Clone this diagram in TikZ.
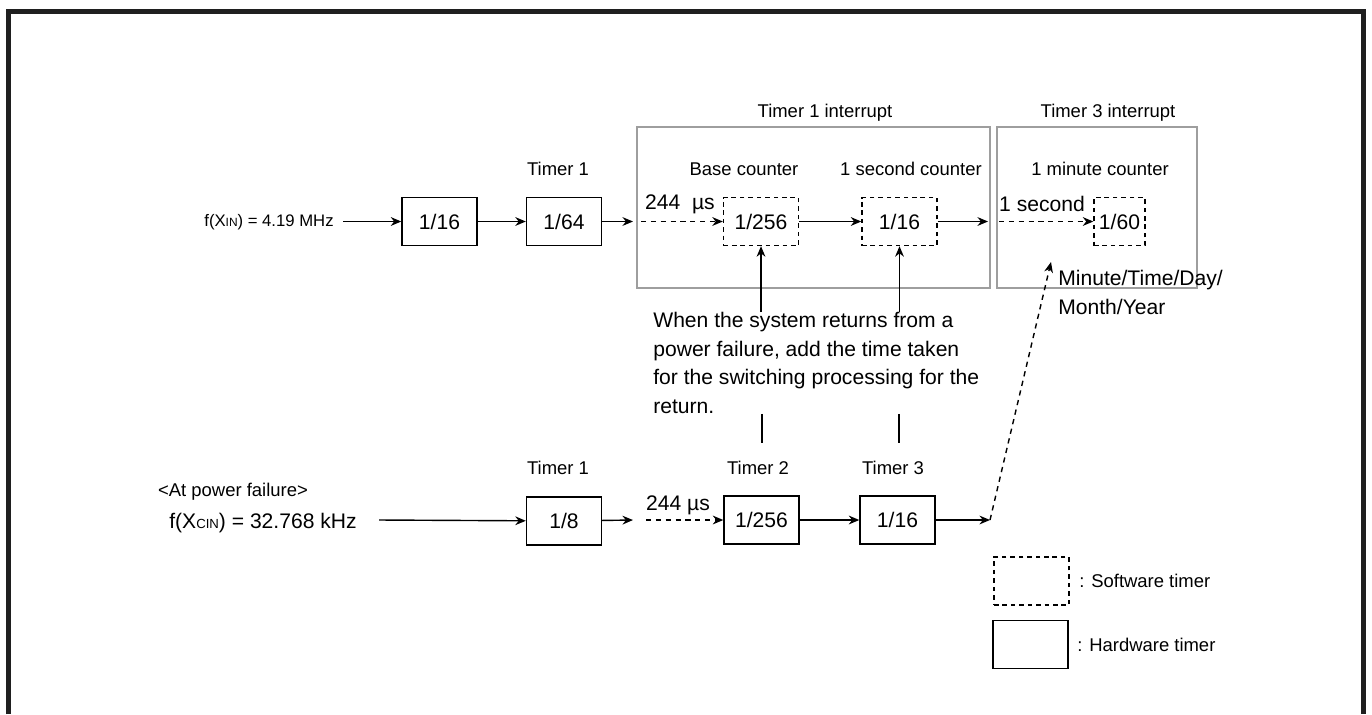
\documentclass[tikz,border=0pt]{standalone}
\usepackage{fontspec}
\setmainfont{Liberation Sans}
\usepackage{tikz}
\usetikzlibrary{arrows.meta,calc}

\newcommand{\subtxt}[2][7.5]{{\fontsize{#1}{9}\selectfont #2}}

\begin{document}
\begin{tikzpicture}[x=0.02cm, y=-0.02cm,
  lbl/.style={font=\fontsize{10.5}{12.6}\selectfont, inner sep=0pt},
  big/.style={font=\fontsize{12}{16.2}\selectfont, inner sep=0pt},
  hwbox/.style={draw, line width=0.8pt, minimum width=1.5cm, minimum height=0.96cm, inner sep=1pt, font=\fontsize{12}{14}\selectfont},
  swbox/.style={hwbox, dash pattern=on 2.6pt off 2.2pt},
  intbox/.style={draw=black!38, line width=0.8pt},
  conn/.style={line width=0.8pt, -{Stealth[length=6pt,width=5pt]}},
  dconn/.style={conn, dash pattern=on 3pt off 2.6pt},
  frame/.style={line width=2.9pt, black!88}]
  \useasboundingbox (0,0) rectangle (1372,714);
  \draw[frame] (8.5,714) -- (8.5,11.5) -- (1363.5,11.5) -- (1363.5,714);

  % Interrupt groups
  \draw[intbox] (637,127) rectangle (990,288);
  \draw[intbox] (997,127) rectangle (1197,288);
  \node[lbl] (int1) at (825,113) {Timer 1 interrupt};
  \node[lbl] (int3) at (1108,113) {Timer 3 interrupt};

  % Main clock
  \node[lbl, font=\fontsize{9.5}{11}\selectfont] (fin) at (269,222) {f(X\subtxt[6.8]{IN}) = 4.19 MHz};
  \coordinate (finout) at (343,221.5);
  \node[hwbox] (div16) at (439.5,221.5) {1/16};
  \node[hwbox] (t1a) at (564,221.5) {1/64};
  \node[lbl] (t1alab) at (558,169) {Timer 1};
  \coordinate (t1aout) at (633,221.5);
  \coordinate (basein) at (641,221.5);
  \node[swbox] (base) at (761,221.5) {1/256};
  \node[lbl] (baselab) at (744,169) {Base counter};
  \node[big] (us1) at (680,204) {244\ \ µs};
  \node[swbox] (sec) at (899.5,221.5) {1/16};
  \node[lbl] (seclab) at (911,169) {1 second counter};
  \coordinate (secout) at (988,221.5);
  \coordinate (minin) at (999,221.5);
  \node[swbox, minimum width=1.02cm] (minc) at (1119.5,221.5) {1/60};
  \node[lbl] (minlab) at (1100,169) {1 minute counter};
  \node[big] (onesec) at (1042,204) {1 second};
  \node[big, align=left, anchor=north west] (cal) at (1058,270) {Minute/Time/Day/\\Month/Year};

  \draw[conn] (finout) -- (div16);
  \draw[conn] (div16) -- (t1a);
  \draw[conn] (t1a) -- (t1aout);
  \draw[dconn] (basein) -- (base);
  \draw[conn] (base) -- (sec);
  \draw[conn] (sec) -- (secout);
  \draw[dconn] (minin) -- (minc);

  % Note on the return from power failure
  \node[big, align=left, anchor=west] (note) at (653,363) {When the system returns from a\\power failure, add the time taken\\for the switching processing for the\\return.};
  \draw[conn] (note.north -| base) -- (base);
  \draw[conn] (note.north -| sec) -- (sec);
  \coordinate (stubA) at (762,443);
  \coordinate (stubB) at (899,443);
  \draw[line width=0.8pt] (note.south -| stubA) -- (stubA);
  \draw[line width=0.8pt] (note.south -| stubB) -- (stubB);

  % Sub clock at power failure
  \node[lbl] (pf) at (233,492) {<At power failure>};
  \node[big] (fcin) at (263,523) {f(X\subtxt{CIN}) = 32.768 kHz};
  \coordinate (fcinout) at (379,520);
  \node[hwbox] (t1b) at (564,521) {1/8};
  \node[lbl] (t1blab) at (558,468) {Timer 1};
  \coordinate (t1bout) at (633,520);
  \coordinate (t2in) at (646,520);
  \node[big] (us2) at (678,505) {244 µs};
  \node[hwbox] (t2) at (761.5,520) {1/256};
  \node[lbl] (t2lab) at (758,468) {Timer 2};
  \node[hwbox] (t3) at (897.5,520) {1/16};
  \node[lbl] (t3lab) at (893,468) {Timer 3};
  \coordinate (t3out) at (990,520);
  \coordinate (caltip) at (1051,262);

  \draw[conn] (fcinout) -- (t1b);
  \draw[conn] (t1b) -- (t1bout);
  \draw[dconn] (t2in) -- (t2);
  \draw[conn] (t2) -- (t3);
  \draw[conn] (t3) -- (t3out);
  \draw[dconn] (t3out) -- (caltip);

  % Legend
  \node[swbox] (legsw) at (1031.5,581) {};
  \node[lbl, anchor=west] (legswlab) at (1079,581) {: Software timer};
  \node[hwbox] (leghw) at (1030.5,644.5) {};
  \node[lbl, anchor=west] (leghwlab) at (1077,645) {: Hardware timer};
\end{tikzpicture}
\end{document}
